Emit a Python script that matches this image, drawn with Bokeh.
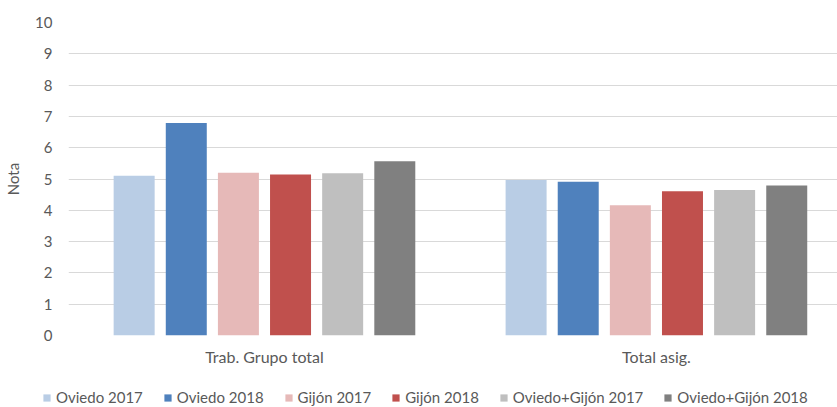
from bokeh.plotting import figure
from bokeh.layouts import column
from bokeh.models import Range1d, FixedTicker, Legend, LegendItem, ColumnDataSource
from bokeh.embed import file_html
from bokeh.resources import INLINE

categories = ["Trab. Grupo total", "Total asig."]
series = ["Oviedo 2017", "Oviedo 2018", "Gijón 2017", "Gijón 2018",
          "Oviedo+Gijón 2017", "Oviedo+Gijón 2018"]
oviedo_2017 = [5.10, 4.97]
oviedo_2018 = [6.79, 4.91]
gijon_2017 = [5.20, 4.16]
gijon_2018 = [5.14, 4.61]
oviedo_gijon_2017 = [5.18, 4.65]
oviedo_gijon_2018 = [5.57, 4.79]
y_ticks = [0, 1, 2, 3, 4, 5, 6, 7, 8, 9, 10]

values = [oviedo_2017, oviedo_2018, gijon_2017, gijon_2018,
          oviedo_gijon_2017, oviedo_gijon_2018]
colors = ["#b9cde5", "#4f81bd", "#e6b9b8", "#c0504d", "#bfbfbf", "#808080"]

FONT = "Lato"
TXT = "#595959"

p = figure(width=837, height=385, output_backend="svg", toolbar_location=None,
           x_range=Range1d(0, 1.962), y_range=Range1d(0, 10),
           min_border_left=68, min_border_right=0, min_border_top=22,
           min_border_bottom=50)
p.outline_line_color = None

# small strip below holding the legend
pl = figure(width=837, height=22, output_backend="svg", toolbar_location=None,
            x_range=Range1d(0, 837), y_range=Range1d(100, 101),
            x_axis_type=None, y_axis_type=None,
            min_border_left=0, min_border_right=0, min_border_top=0,
            min_border_bottom=0)
pl.outline_line_color = None
pl.xgrid.visible = False
pl.ygrid.visible = False

step = 0.1330
bar_w = 0.1046
legend_renderers = []
for i, (name, vals, col) in enumerate(zip(series, values, colors)):
    xs = [g + 0.5 + (i - 2.5) * step for g in range(len(categories))]
    src = ColumnDataSource(dict(x=xs, top=vals))
    p.vbar(x="x", top="top", width=bar_w, bottom=0, source=src,
           fill_color=col, line_color=None)
    # same bars in the legend strip (outside its visible range) for the legend swatches
    rl = pl.vbar(x="x", top="top", width=bar_w, bottom=0, source=src,
                 fill_color=col, line_color=None)
    legend_renderers.append(rl)

# axes
p.xaxis.ticker = FixedTicker(ticks=[0.5, 1.5])
p.xaxis.major_label_overrides = {0.5: categories[0], 1.5: categories[1]}
p.xaxis.axis_line_color = None
p.xaxis.major_tick_line_color = None
p.xaxis.minor_tick_line_color = None
p.xaxis.major_tick_out = 0
p.xaxis.major_tick_in = 0
p.xaxis.major_label_text_font = FONT
p.xaxis.major_label_text_font_size = "16px"
p.xaxis.major_label_text_color = TXT
p.xaxis.major_label_standoff = 11

p.yaxis.ticker = FixedTicker(ticks=y_ticks)
p.yaxis.axis_line_color = None
p.yaxis.major_tick_line_color = None
p.yaxis.minor_tick_line_color = None
p.yaxis.major_tick_out = 0
p.yaxis.major_tick_in = 0
p.yaxis.major_label_text_font = FONT
p.yaxis.major_label_text_font_size = "15px"
p.yaxis.major_label_text_color = TXT
p.yaxis.major_label_standoff = 16
p.yaxis.axis_label = "Nota"
p.yaxis.axis_label_text_font = FONT
p.yaxis.axis_label_text_font_size = "15px"
p.yaxis.axis_label_text_font_style = "normal"
p.yaxis.axis_label_text_color = TXT
p.yaxis.axis_label_standoff = 10

p.xgrid.grid_line_color = None
p.ygrid.grid_line_color = "#d9d9d9"
p.ygrid.grid_line_width = 1

items = [LegendItem(label=name, renderers=[r]) for name, r in zip(series, legend_renderers)]
lg = Legend(items=items, location=(42, 1), orientation="horizontal",
            glyph_width=9, glyph_height=9, label_standoff=5,
            padding=0, margin=0, spacing=20,
            border_line_color=None, background_fill_alpha=0,
            label_text_font=FONT, label_text_font_size="15px",
            label_text_color=TXT)
pl.add_layout(lg, "center")

layout = column(p, column(pl, spacing=0), spacing=0)
open("out.html", "w").write(file_html(layout, INLINE))
